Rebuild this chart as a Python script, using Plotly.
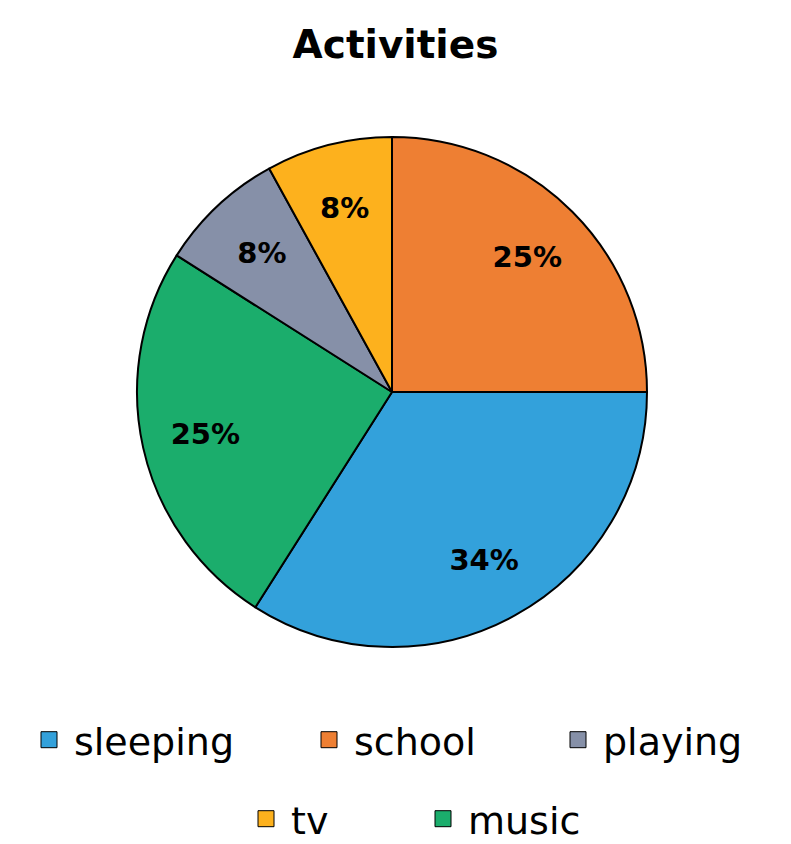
import plotly.graph_objects as go

# Data (clockwise from 12 o'clock)
slice_labels = ["school", "sleeping", "music", "playing", "tv"]
slice_values = [25, 34, 25, 8, 8]
slice_colors = ["#EE7F33", "#33A1DB", "#1BAD6C", "#8690A8", "#FDB11D"]

# Legend order
legend_labels = ["sleeping", "school", "playing", "tv", "music"]
color_map = dict(zip(slice_labels, slice_colors))

FONT = "DejaVu Sans"
W, H = 791, 844
CX, CY, R = 392, 392, 255


def dom(r):
    return dict(x=[(CX - r) / W, (CX + r) / W], y=[(H - CY - r) / H, (H - CY + r) / H])


fig = go.Figure()
# coloured slices
fig.add_trace(go.Pie(
    labels=slice_labels,
    values=slice_values,
    sort=False,
    direction="clockwise",
    rotation=0,
    marker=dict(colors=slice_colors, line=dict(color="black", width=2)),
    textinfo="none",
    showlegend=False,
    hoverinfo="label+percent",
    domain=dom(R),
))

# transparent rings carrying the percentage labels (big slices / small slices)
big = [v >= 20 for v in slice_values]
for hole, rad, show in [(0.5, R, big), (0.667, 228, [not b for b in big])]:
    fig.add_trace(go.Pie(
        labels=slice_labels,
        values=slice_values,
        sort=False,
        direction="clockwise",
        rotation=0,
        hole=hole,
        marker=dict(colors=["rgba(0,0,0,0)"] * len(slice_labels),
                    line=dict(color="rgba(0,0,0,0)", width=0)),
        texttemplate="%{percent:.0%}",
        textposition=["inside" if s else "none" for s in show],
        insidetextorientation="horizontal",
        textfont=dict(family=FONT, size=29, color="black", weight="bold"),
        showlegend=False,
        hoverinfo="skip",
        domain=dom(rad),
    ))

# legend entries (each in its own legend box to reproduce the centred rows)
legend_pos = {
    "sleeping": (49, 740),
    "school": (329, 740),
    "playing": (578, 740),
    "tv": (266, 819),
    "music": (443, 819),
}
layout_legends = {}
for i, lab in enumerate(legend_labels):
    lname = "legend" if i == 0 else f"legend{i+1}"
    fig.add_trace(go.Scatter(
        x=[None], y=[None], mode="markers", name=lab,
        marker=dict(symbol="square", size=16, color=color_map[lab],
                    line=dict(color="black", width=1)),
        legend=lname, showlegend=True,
    ))
    cx, cy = legend_pos[lab]
    layout_legends[lname] = dict(
        x=(cx - 25) / W, xanchor="left",
        y=(H - cy) / H, yanchor="middle",
        orientation="h",
        itemwidth=40,
        font=dict(family=FONT, size=38, color="black"),
        bgcolor="rgba(0,0,0,0)",
        borderwidth=0,
    )

fig.update_layout(
    width=W, height=H,
    margin=dict(l=0, r=0, t=0, b=0, autoexpand=False),
    paper_bgcolor="white", plot_bgcolor="white",
    title=dict(text="<b>Activities</b>", x=0.5, xanchor="center",
               y=(H - 44) / H, yanchor="middle",
               font=dict(family=FONT, size=39, color="black")),
    xaxis=dict(visible=False), yaxis=dict(visible=False),
    **layout_legends,
)

fig.write_html("out.html", config={"displayModeBar": False},
               post_script="document.body.style.margin='0';")
